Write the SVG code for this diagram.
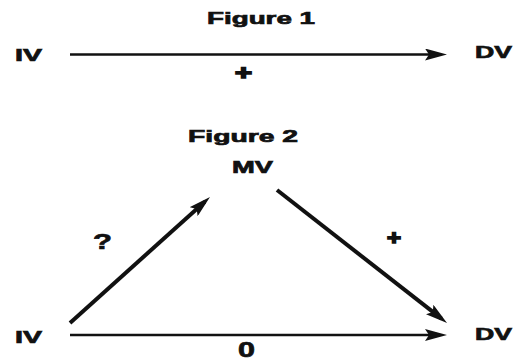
<svg xmlns="http://www.w3.org/2000/svg" width="513" height="362" viewBox="0 0 513 362">
<style>
text{font-family:"Liberation Sans",Arial,sans-serif;font-weight:bold;fill:#111;stroke:#111;stroke-width:0.7}
.t{font-size:17px}
.e{stroke:#111;fill:none}
.h{stroke-width:2.6}
.d{stroke-width:4}
.p{stroke-width:1.6}
</style>
<defs>
<marker id="ah" markerUnits="userSpaceOnUse" viewBox="0 0 22 12" markerWidth="22" markerHeight="12" refX="15" refY="6" orient="auto">
<path d="M0,0 L22,6 L0,12 L4,6 z" fill="#111"/>
</marker>
</defs>
<rect width="513" height="362" fill="#fff"/>
<text class="t" x="207" y="24" textLength="108" lengthAdjust="spacingAndGlyphs">Figure 1</text>
<text class="t" x="188" y="142" textLength="110" lengthAdjust="spacingAndGlyphs">Figure 2</text>
<g id="connectors">
<line class="e h" x1="70" y1="54.5" x2="440" y2="54.5" marker-end="url(#ah)"/>
<line class="e d" x1="70" y1="323" x2="204.8" y2="201.7" marker-end="url(#ah)"/>
<line class="e d" x1="277" y1="190" x2="441.5" y2="318.7" marker-end="url(#ah)"/>
<line class="e h" x1="70" y1="335" x2="440" y2="335" marker-end="url(#ah)"/>
<text class="p" style="font-size:20px" x="235" y="80" textLength="17" lengthAdjust="spacingAndGlyphs">+</text>
<text style="font-size:22px" x="93" y="249" textLength="19" lengthAdjust="spacingAndGlyphs">?</text>
<text class="p" style="font-size:20px" x="387" y="245" textLength="14" lengthAdjust="spacingAndGlyphs">+</text>
<text style="font-size:22px" x="238" y="357" textLength="17" lengthAdjust="spacingAndGlyphs">0</text>
</g>
<g id="iv1"><text class="t" x="15" y="61" textLength="27" lengthAdjust="spacingAndGlyphs">IV</text></g>
<g id="dv1"><text class="t" x="475" y="58" textLength="37" lengthAdjust="spacingAndGlyphs">DV</text></g>
<g id="mv2"><text class="t" x="232" y="173" textLength="41" lengthAdjust="spacingAndGlyphs">MV</text></g>
<g id="iv2"><text class="t" x="15" y="343" textLength="27" lengthAdjust="spacingAndGlyphs">IV</text></g>
<g id="dv2"><text class="t" x="475" y="340" textLength="37" lengthAdjust="spacingAndGlyphs">DV</text></g>
</svg>
